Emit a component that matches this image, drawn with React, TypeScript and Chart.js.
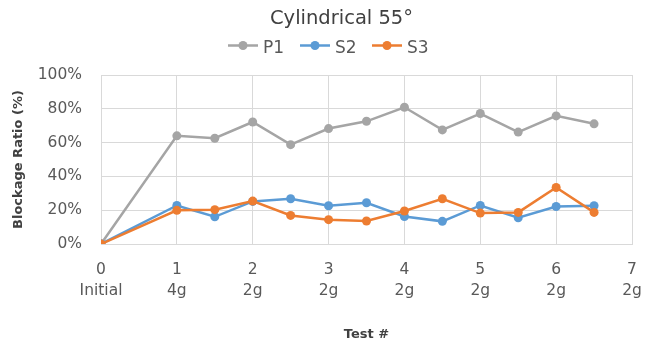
import React, { useEffect, useRef } from "react";
import { Chart, registerables } from "chart.js";

Chart.register(...registerables);

const chartTitle = "Cylindrical 55°";
const xTitle = "Test #";
const yTitle = "Blockage Ratio (%)";

const testPositions = [0, 1, 1.5, 2, 2.5, 3, 3.5, 4, 4.5, 5, 5.5, 6, 6.5];
const p1Values = [0, 64, 62.6, 72.2, 58.8, 68.3, 72.6, 80.9, 67.5, 77.2, 66.2, 75.8, 71.1];
const s2Values = [0, 22.8, 16.1, 25.2, 26.8, 22.6, 24.4, 16.3, 13.4, 22.8, 15.5, 22.2, 22.6];
const s3Values = [0, 19.9, 20.3, 25.4, 16.9, 14.4, 13.6, 19.5, 26.8, 18.3, 18.7, 33.4, 18.7];

const tickMain = ["0", "1", "2", "3", "4", "5", "6", "7"];
const tickSub = ["Initial", "4g", "2g", "2g", "2g", "2g", "2g", "2g"];

const seriesNames = ["P1", "S2", "S3"];
const seriesColors = ["#A5A5A5", "#5B9BD5", "#ED7D31"];

const FONT = "'DejaVu Sans', sans-serif";

const toPoints = (vals: number[]) => vals.map((v, i) => ({ x: testPositions[i], y: v }));

const headerPlugin = {
  id: "header",
  afterDraw(chart: any) {
    const ctx = chart.ctx;
    ctx.save();
    ctx.fillStyle = "#404040";
    ctx.font = `19.5px ${FONT}`;
    ctx.textAlign = "center";
    ctx.textBaseline = "alphabetic";
    ctx.fillText(chartTitle, 341.5, 23.5);

    ctx.font = `17px ${FONT}`;
    ctx.textAlign = "left";
    const starts = [228, 300, 372];
    seriesNames.forEach((name, i) => {
      const x0 = starts[i];
      const y = 45.5;
      ctx.strokeStyle = seriesColors[i];
      ctx.lineWidth = 2.5;
      ctx.beginPath();
      ctx.moveTo(x0, y);
      ctx.lineTo(x0 + 30, y);
      ctx.stroke();
      ctx.fillStyle = seriesColors[i];
      ctx.beginPath();
      ctx.arc(x0 + 15, y, 4.5, 0, Math.PI * 2);
      ctx.fill();
      ctx.fillStyle = "#595959";
      ctx.fillText(name, x0 + 35, 53.3);
    });
    ctx.restore();
  },
};

export default function App() {
  const ref = useRef<HTMLCanvasElement>(null);
  useEffect(() => {
    document.body.style.margin = "0";
    const canvas = ref.current!;
    const datasets = [p1Values, s2Values, s3Values].map((vals, i) => ({
      label: seriesNames[i],
      data: toPoints(vals),
      borderColor: seriesColors[i],
      backgroundColor: seriesColors[i],
      borderWidth: 2.5,
      pointRadius: 4.5,
      pointBorderWidth: 0,
      pointHoverRadius: 4.5,
      order: 3 - i,
      tension: 0,
    }));
    const chart = new Chart(canvas, {
      type: "line",
      data: { datasets },
      plugins: [headerPlugin],
      options: {
        animation: false,
        responsive: false,
        layout: { padding: { top: 75, right: 14, left: 0, bottom: 0 } },
        plugins: {
          legend: { display: false },
          title: { display: false },
          tooltip: { enabled: false },
        },
        scales: {
          x: {
            type: "linear",
            min: 0,
            max: 7,
            afterFit: (s: any) => {
              s.height = 100;
              s.paddingLeft = 0;
              s.paddingRight = 0;
            },
            ticks: {
              stepSize: 1,
              padding: 15.5,
              color: "#595959",
              font: { family: FONT, size: 15.5, lineHeight: 1.35 },
              maxRotation: 0,
              autoSkip: false,
              callback: (v: any) => [tickMain[v] ?? String(v), tickSub[v] ?? ""],
            },
            grid: { color: "#D9D9D9", lineWidth: 1, drawTicks: false },
            border: { color: "#D9D9D9" },
            title: {
              display: true,
              text: xTitle,
              color: "#404040",
              font: { family: FONT, size: 13, weight: "bold", lineHeight: 1.2 },
              padding: { top: 0, bottom: 2 },
            },
          },
          y: {
            min: 0,
            max: 100,
            afterFit: (s: any) => {
              s.width = 101;
            },
            ticks: {
              stepSize: 20,
              padding: 19,
              color: "#595959",
              font: { family: FONT, size: 15.5 },
              callback: (v: any) => `${v}%`,
            },
            grid: { color: "#D9D9D9", lineWidth: 1, drawTicks: false },
            border: { color: "#D9D9D9" },
            title: {
              display: true,
              text: yTitle,
              color: "#404040",
              font: { family: FONT, size: 13, weight: "bold", lineHeight: 1.2 },
              padding: { top: 11, bottom: 0 },
            },
          },
        },
      },
    });
    return () => chart.destroy();
  }, []);
  return <canvas ref={ref} width={646} height={344} style={{ display: "block" }} />;
}
